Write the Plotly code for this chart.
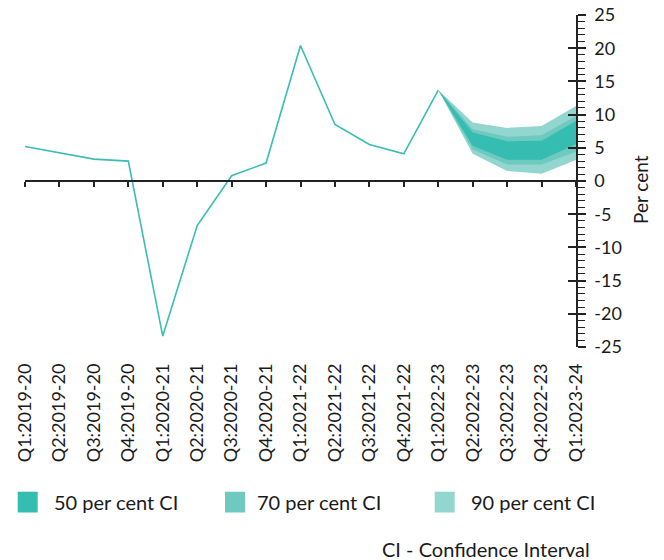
import plotly.graph_objects as go

categories = ["Q1:2019-20", "Q2:2019-20", "Q3:2019-20", "Q4:2019-20",
              "Q1:2020-21", "Q2:2020-21", "Q3:2020-21", "Q4:2020-21",
              "Q1:2021-22", "Q2:2021-22", "Q3:2021-22", "Q4:2021-22",
              "Q1:2022-23", "Q2:2022-23", "Q3:2022-23", "Q4:2022-23",
              "Q1:2023-24"]
growth = [5.2, 4.3, 3.3, 3.0, -23.35, -6.7, 0.8, 2.7, 20.4, 8.5, 5.5, 4.1, 13.7]

fan_x = ["Q1:2022-23", "Q2:2022-23", "Q3:2022-23", "Q4:2022-23", "Q1:2023-24"]
ci90_upper = [13.7, 8.8, 8.0, 8.3, 11.3]
ci90_lower = [13.7, 4.1, 1.5, 1.1, 3.15]
ci70_upper = [13.7, 7.8, 6.65, 6.9, 9.8]
ci70_lower = [13.7, 4.75, 2.5, 2.5, 4.4]
ci50_upper = [13.7, 7.3, 6.0, 6.05, 9.05]
ci50_lower = [13.7, 5.3, 3.2, 3.2, 5.55]

y_ticks = [25, 20, 15, 10, 5, 0, -5, -10, -15, -20, -25]
y_tick_labels = ["25", "20", "15", "10", "5", "0", "-5", "-10", "-15", "-20", "-25"]

legend_labels = ["50 per cent CI", "70 per cent CI", "90 per cent CI"]
footer_text = "CI - Confidence Interval"
y_title = "Per cent"

C50, C70, C90 = "#35bdb2", "#6ec9c0", "#93d5cf"
LINE = "#38beb3"
TXT = "#1a1a1a"
AX = "#222222"
FONT = "Lato, 'Noto Sans', sans-serif"

fig = go.Figure()

for lo, up, col in [(ci90_lower, ci90_upper, C90),
                    (ci70_lower, ci70_upper, C70),
                    (ci50_lower, ci50_upper, C50)]:
    fig.add_trace(go.Scatter(x=fan_x, y=lo, mode="lines", line=dict(width=0, color=col),
                             hoverinfo="skip", showlegend=False))
    fig.add_trace(go.Scatter(x=fan_x, y=up, mode="lines", line=dict(width=0, color=col),
                             fill="tonexty", fillcolor=col, hoverinfo="skip", showlegend=False))

fig.add_trace(go.Scatter(x=categories[:len(growth)], y=growth, mode="lines",
                         line=dict(color=LINE, width=1.6), showlegend=False))

# helper traces so the overlay axes are drawn
fig.add_trace(go.Scatter(x=categories, y=[0] * len(categories), xaxis="x2", yaxis="y",
                         mode="lines", opacity=0, hoverinfo="skip", showlegend=False))
fig.add_trace(go.Scatter(x=categories, y=[0] * len(categories), xaxis="x", yaxis="y2",
                         mode="lines", opacity=0, hoverinfo="skip", showlegend=False))

# body margin is removed by the post script, so the figure fills the window
W, H = 664, 560
PL, PT, PW, PH = 25, 15, 551, 332  # plot area in window pixels
ml, mt = PL, PT
mr = W - ml - PW
mb = H - mt - PH


def px(xp):
    return (xp - PL) / PW


def py(yp):
    return (PT + PH - yp) / PH


fig.update_layout(
    template="none",
    width=W, height=H,
    margin=dict(l=ml, r=mr, t=mt, b=mb, autoexpand=False),
    paper_bgcolor="white", plot_bgcolor="white",
    font=dict(family=FONT, color=TXT, size=18),
    xaxis=dict(type="category", categoryorder="array", categoryarray=categories,
               range=[0, len(categories) - 1], showline=False, showgrid=False,
               zeroline=False, ticks="", tickangle=-90, ticklabelstandoff=12,
               automargin=False, ticklabeloverflow="allow",
               tickfont=dict(size=18, color=TXT)),
    xaxis2=dict(type="category", categoryorder="array", categoryarray=categories,
                range=[0, len(categories) - 1], overlaying="x", anchor="free",
                position=0.5, side="bottom", showline=True, linecolor=AX,
                linewidth=1.5, ticks="outside", ticklen=5, tickwidth=1.5,
                tickcolor=AX, showticklabels=False, showgrid=False, zeroline=False,
                automargin=False),
    yaxis=dict(side="right", range=[-25, 25], tickvals=y_ticks, ticktext=y_tick_labels,
               ticks="outside", ticklen=8, tickwidth=1.5, tickcolor=AX,
               showline=True, linecolor=AX, linewidth=1.5, showgrid=False,
               zeroline=False, ticklabelstandoff=5, automargin=False,
               ticklabeloverflow="allow",
               tickfont=dict(size=18, color=TXT),
               minor=dict(dtick=1, tick0=0, ticks="outside", ticklen=7,
                          tickwidth=1, tickcolor=AX, showgrid=False)),
    yaxis2=dict(overlaying="y", anchor="x", side="right", range=[-25, 25],
                tickvals=y_ticks, ticks="inside", ticklen=8, tickwidth=1.5,
                tickcolor=AX, showticklabels=False, showline=False,
                showgrid=False, zeroline=False, automargin=False),
    showlegend=False,
)

# y-axis title
fig.add_annotation(x=px(640), y=py(190), xref="paper", yref="paper", text=y_title,
                   textangle=-90, showarrow=False, font=dict(size=19, color=TXT),
                   xanchor="center", yanchor="middle")

# legend
leg_sq = [(17.7, 51.7), (225, 255), (434.7, 468.7)]
for (sx, tx), lab, col in zip(leg_sq, legend_labels, [C50, C70, C90]):
    fig.add_shape(type="rect", xref="paper", yref="paper",
                  x0=px(sx), x1=px(sx + 20), y0=py(512.5), y1=py(491.7),
                  fillcolor=col, line=dict(width=0))
    fig.add_annotation(x=px(tx), y=py(502), xref="paper", yref="paper", text=lab,
                       showarrow=False, xanchor="left", yanchor="middle",
                       font=dict(size=20, color=TXT))

fig.add_annotation(x=px(592), y=py(549), xref="paper", yref="paper", text=footer_text,
                   showarrow=False, xanchor="right", yanchor="middle",
                   font=dict(size=20, color=TXT))

fig.write_html("out.html", config={"displayModeBar": False},
               post_script="document.body.style.margin='0';document.body.style.padding='0';")
